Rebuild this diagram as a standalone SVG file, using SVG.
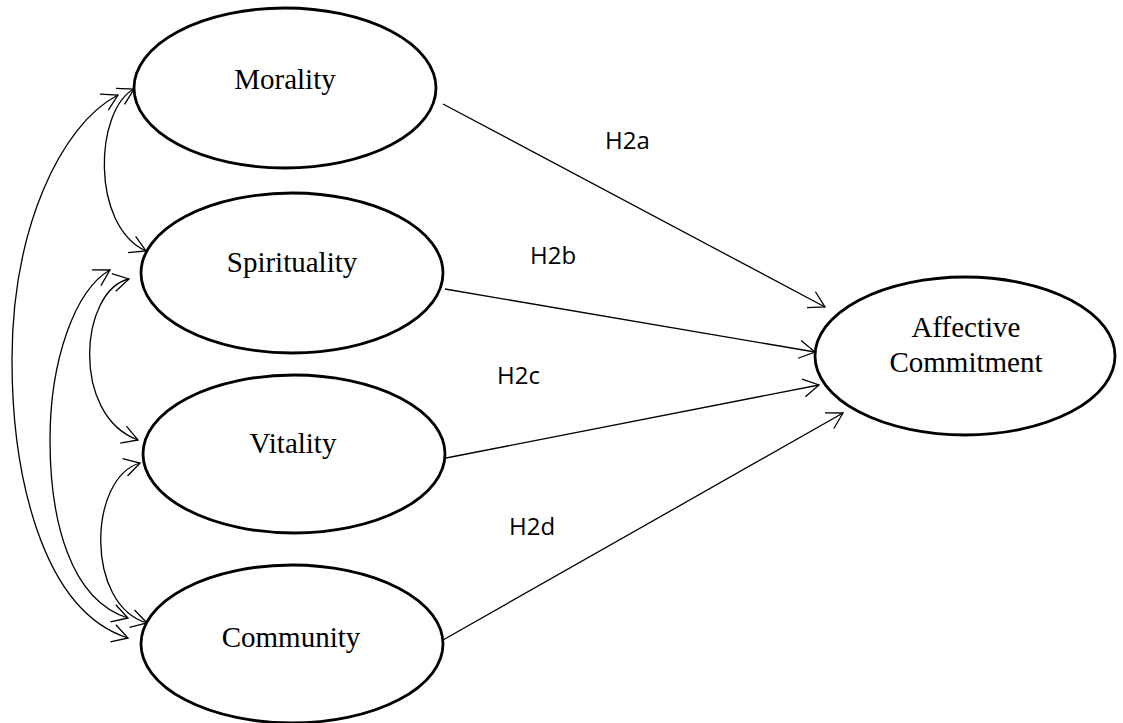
<svg xmlns="http://www.w3.org/2000/svg" width="1123" height="723" viewBox="0 0 1123 723">
<style>
.node ellipse{fill:#fff;stroke:#000;stroke-width:2.8}
.node text{font-family:"Liberation Serif","Times New Roman",serif;font-size:29px;fill:#000;text-anchor:middle}
.lbl{font-family:"Open Sans","Liberation Sans",sans-serif;font-size:24px;fill:#000}
.conn path{fill:none;stroke:#000;stroke-width:1.3}
.straight path{marker-end:url(#arr)}
.curved path{marker-start:url(#arr);marker-end:url(#arr)}
</style>
<defs>
<marker id="arr" markerUnits="userSpaceOnUse" markerWidth="24" markerHeight="24" viewBox="-18 -12 20 24" refX="0" refY="0" orient="auto-start-reverse">
<path d="M-15.6,-9 L0,0 L-15.6,9" fill="none" stroke="#000" stroke-width="1.3"/>
</marker>
</defs>
<rect width="1123" height="723" fill="#fff"/>
<g id="connectors" class="conn">
<g class="straight">
<path d="M443,104 L825,307"/>
<path d="M445,289 L815,352"/>
<path d="M446,458 L819,385"/>
<path d="M443,640 L843,413"/>
</g>
<g class="curved">
<path d="M134,89 C95,110 90,225 146,251"/>
<path d="M118,95 C60,125 12,230 12,360 C12,470 40,610 128,638"/>
<path d="M110,270 C75,290 50,360 50,440 C50,520 70,600 128,618"/>
<path d="M129,279 C80,290 70,415 138,440"/>
<path d="M140,463 C88,478 85,605 147,623"/>
</g>
</g>
<g id="morality" class="node"><ellipse cx="285" cy="88" rx="151" ry="80"/><text x="285" y="89">Morality</text></g>
<g id="spirituality" class="node"><ellipse cx="292" cy="273" rx="151" ry="80"/><text x="292" y="272">Spirituality</text></g>
<g id="vitality" class="node"><ellipse cx="294" cy="454" rx="151" ry="79"/><text x="293" y="453">Vitality</text></g>
<g id="community" class="node"><ellipse cx="292" cy="644" rx="151" ry="79"/><text x="291" y="647">Community</text></g>
<g id="affective" class="node"><ellipse cx="965" cy="356" rx="150" ry="79"/><text x="966" y="337">Affective</text><text x="966" y="372">Commitment</text></g>
<g id="labels">
<text class="lbl" x="605" y="149">H2a</text>
<text class="lbl" x="530" y="264">H2b</text>
<text class="lbl" x="497" y="384">H2c</text>
<text class="lbl" x="509" y="535">H2d</text>
</g>
</svg>
